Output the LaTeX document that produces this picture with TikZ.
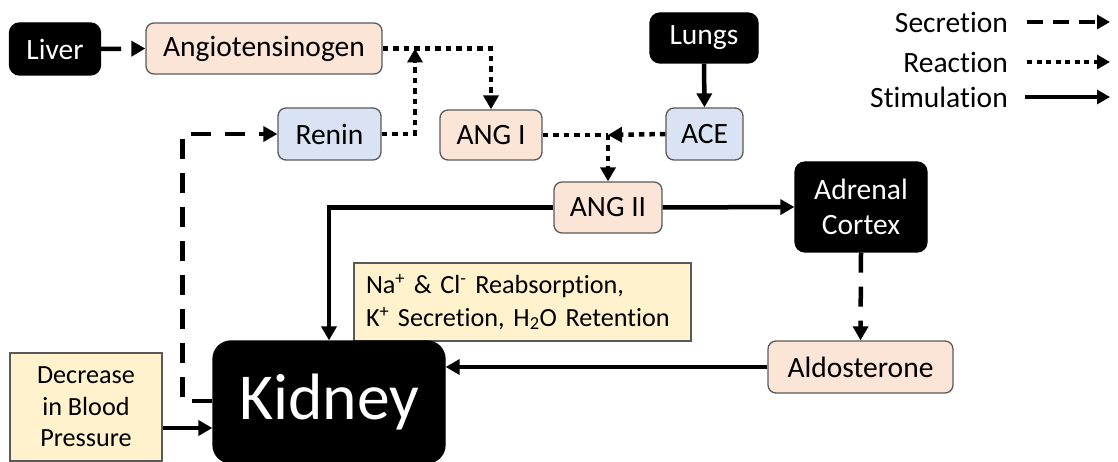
\documentclass[tikz,border=0pt]{standalone}
\usepackage{fontspec}
\setmainfont{Carlito}[Ligatures=NoCommon]
\usetikzlibrary{arrows.meta,calc}
\definecolor{peach}{HTML}{FBE5D6}
\definecolor{lblue}{HTML}{DAE3F3}
\definecolor{lyel}{HTML}{FFF2CC}
\definecolor{bord}{HTML}{595959}
\begin{document}
\begin{tikzpicture}[x=1pt,y=-1pt,
 box/.style={draw=bord,line width=1.3pt,rounded corners=8pt,inner sep=0pt,align=center,font=\fontsize{29.5}{35}\selectfont},
 peachbox/.style={box,fill=peach},
 bluebox/.style={box,fill=lblue},
 blackbox/.style={box,fill=black,draw=black,text=white,rounded corners=10pt},
 yelbox/.style={draw=bord,line width=1.3pt,fill=lyel,inner ysep=0pt},
 conn/.style={line width=4.5pt,-{Triangle[length=14pt,width=15pt]}},
 secr/.style={conn,dash pattern=on 20pt off 14pt},
 reac/.style={conn,dash pattern=on 5.5pt off 5pt},
 stim/.style={conn},
 legtext/.style={anchor=east,inner sep=0pt,font=\fontsize{29.5}{35}\selectfont},
 legarrow/.style={line width=4.5pt,-{Triangle[length=13pt,width=14pt]}},
]
\useasboundingbox (0,0) rectangle (1118,462);
% nodes
\node[blackbox,minimum width=91,minimum height=52] (liver) at (55,49) {Liver};
\node[peachbox,minimum width=236,minimum height=51] (angio) at (264,48.5) {Angiotensinogen};
\node[bluebox,minimum width=103,minimum height=52] (renin) at (329.5,134) {Renin};
\node[peachbox,minimum width=102,minimum height=50] (ang1) at (491,135) {ANG I};
\node[blackbox,minimum width=108,minimum height=50] (lungs) at (704,38) {Lungs};
\node[bluebox,minimum width=77,minimum height=52] (ace) at (704.5,134) {ACE};
\node[peachbox,minimum width=108,minimum height=51] (ang2) at (608,207.5) {ANG II};
\node[blackbox,minimum width=132,minimum height=90] (adrenal) at (861,207) {Adrenal\\Cortex};
\node[peachbox,minimum width=185,minimum height=52] (aldo) at (860.5,367) {Aldosterone};
\node[yelbox,minimum height=78,inner xsep=12pt,text width=313pt,align=left,font=\fontsize{26.2}{33}\selectfont] (effects) at (522.5,302)
 {Na\textsuperscript{+} \& Cl\textsuperscript{-} Reabsorption,\\K\textsuperscript{+} Secretion, H\textsubscript{2}O Retention};
\node[blackbox,minimum width=232,minimum height=122,rounded corners=18pt,font=\fontsize{65.6}{70}\selectfont] (kidney) at (329,402) {Kidney};
\node[yelbox,minimum width=152,minimum height=108,inner sep=0pt,align=center,font=\fontsize{26.2}{31.5}\selectfont] (bp) at (86,407) {Decrease\\in Blood\\Pressure};
% legend
\node[legtext] (lsec) at (1008,22) {Secretion};
\node[legtext] (lrea) at (1008,62) {Reaction};
\node[legtext] (lsti) at (1008,97) {Stimulation};
\coordinate (lsecE) at (1110,22);
\coordinate (lreaE) at (1110,62);
\coordinate (lstiE) at (1110,97);
\draw[legarrow,dash pattern=on 16pt off 10pt] ([xshift=19pt]lsec.east) -- (lsecE);
\draw[legarrow,dash pattern=on 5pt off 4.5pt] ([xshift=19pt]lrea.east) -- (lreaE);
\draw[legarrow] ([xshift=17pt]lsti.east) -- (lstiE);
% junctions
\coordinate (j1) at (415,48.5);
\coordinate (j2) at (608,135);
\coordinate (bpa) at ($(bp.east)+(0,21)$);
% connectors
\draw[secr] (liver.east) -- (angio.west);
\draw[reac] (angio.east) -| (ang1.north);
\draw[reac] (renin.east) -| (j1);
\draw[stim] (lungs.south) -- (ace.north);
\draw[reac,-] (ang1.east) -- (j2);
\draw[reac] (ace.west) -- (j2);
\draw[reac] (j2) -- (ang2.north);
\draw[stim] (ang2.west) -| (kidney.north);
\draw[stim] (ang2.east) -- (adrenal.west);
\draw[secr] (adrenal.south) -- (aldo.north);
\draw[stim] (aldo.west) -- (aldo.west -| kidney.east);
\draw[stim] (bpa) -- (bpa -| kidney.west);
\draw[secr] ($(kidney.west)+(0,-1)$) -- ++(-30,0) |- (renin.west);
\end{tikzpicture}
\end{document}
